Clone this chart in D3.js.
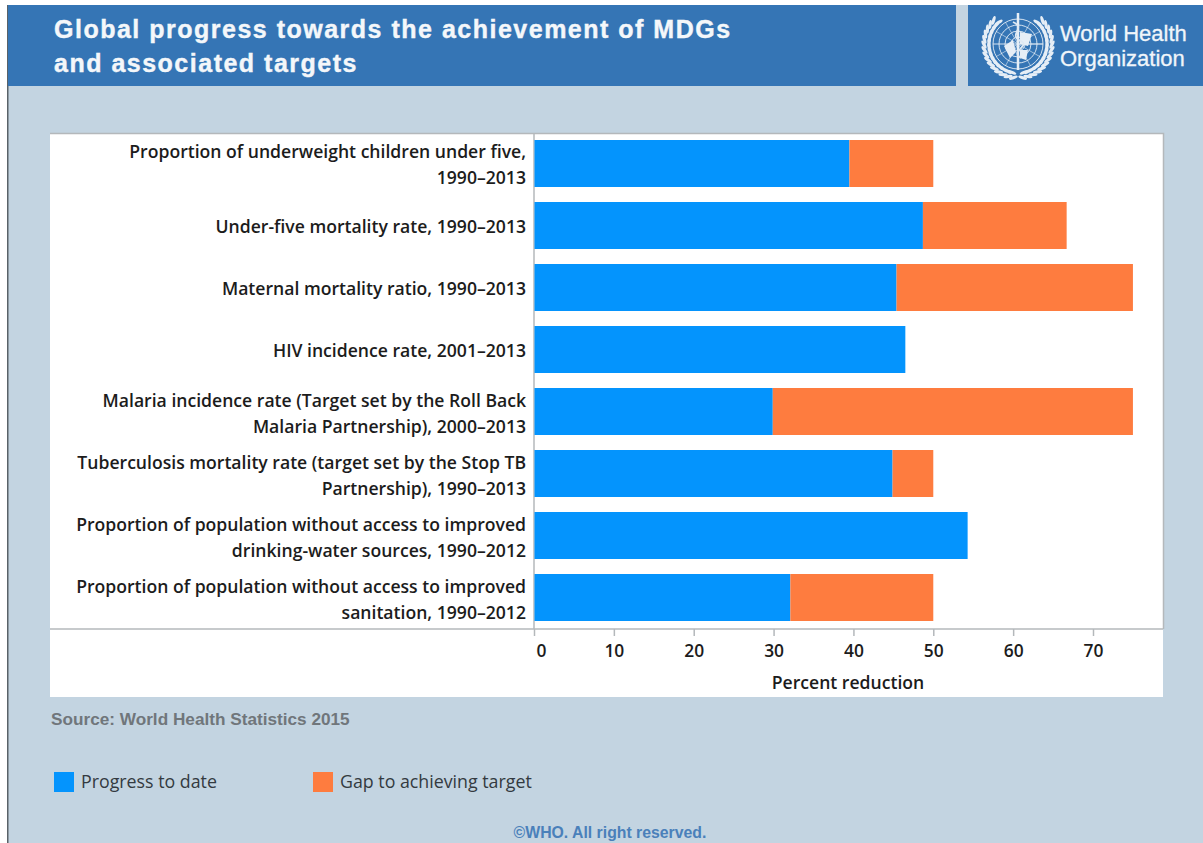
<!DOCTYPE html>
<html>
<head>
  <title>Global progress towards the achievement of MDGs</title>
  <style>
    body { margin: 0; padding: 0; background: #fff; overflow: hidden; }
    svg { display: block; }
    .label { font-family: "Open Sans", sans-serif; font-size: 17.6px; font-weight: 600; fill: #1c1c1c; }
    .tick text { font-family: "Open Sans", sans-serif; font-size: 17.4px; font-weight: 600; fill: #1c1c1c; }
    .head { font-family: "Liberation Sans", Arial, sans-serif; font-weight: bold; font-size: 25px; letter-spacing: 1.5px; fill: #f4f7fa; stroke: #f4f7fa; stroke-width: 0.4px; }
    .org { font-family: "Liberation Sans", Arial, sans-serif; font-size: 22px; fill: #f0f5fa; stroke: #f0f5fa; stroke-width: 0.3px; }
  </style>
</head>
<body>
  <div id="chart"></div>
  <script src="https://d3js.org/d3.v7.min.js"></script>
  <script>
    // values
    const categories = [
      ["Proportion of underweight children under five,", "1990–2013"],
      ["Under-five mortality rate, 1990–2013"],
      ["Maternal mortality ratio, 1990–2013"],
      ["HIV incidence rate, 2001–2013"],
      ["Malaria incidence rate (Target set by the Roll Back", "Malaria Partnership), 2000–2013"],
      ["Tuberculosis mortality rate (target set by the Stop TB", "Partnership), 1990–2013"],
      ["Proportion of population without access to improved", "drinking-water sources, 1990–2012"],
      ["Proportion of population without access to improved", "sanitation, 1990–2012"]
    ];
    const progress = [39.5, 48.7, 45.4, 46.5, 29.9, 44.9, 54.3, 32.1];
    const gap = [10.5, 18, 29.6, 0, 45.1, 5.1, 0, 17.9];
    const tickValues = [0, 10, 20, 30, 40, 50, 60, 70];
    const seriesNames = ["Progress to date", "Gap to achieving target"];
    const seriesColors = ["#0494fd", "#fe7c3f"];

    const width = 1203, height = 843;
    const svg = d3.select("#chart").append("svg").attr("width", width).attr("height", height);

    // page background and header bands
    svg.append("rect").attr("x", 7).attr("width", width - 7).attr("height", height).attr("fill", "#c3d4e1");
    svg.append("rect").attr("x", 7).attr("width", 1.5).attr("height", height).attr("fill", "#5a6268");
    svg.append("rect").attr("y", 0).attr("width", width).attr("height", 5).attr("fill", "#fff");
    svg.append("rect").attr("x", 8).attr("y", 5).attr("width", 948).attr("height", 81).attr("fill", "#3575b5");
    svg.append("rect").attr("x", 968).attr("y", 5).attr("width", 235).attr("height", 81).attr("fill", "#3575b5");
    svg.append("text").attr("class", "head").attr("x", 54).attr("y", 38).text("Global progress towards the achievement of MDGs");
    svg.append("text").attr("class", "head").attr("x", 54).attr("y", 72).text("and associated targets");

    // WHO emblem
    const logo = svg.append("g").attr("transform", "translate(1018,44)")
      .attr("fill", "none").attr("stroke", "#e6eef6");
    [7, 13, 19, 25].forEach(r => logo.append("circle").attr("r", r).attr("stroke-width", 0.9));
    logo.append("line").attr("x1", -25).attr("x2", 25).attr("stroke-width", 0.9);
    logo.append("line").attr("y1", -31).attr("y2", 26).attr("stroke-width", 2.5);
    d3.range(-150, 180, 30).forEach(a => {
      const t = a * Math.PI / 180;
      logo.append("line").attr("x2", 25 * Math.cos(t)).attr("y2", 25 * Math.sin(t)).attr("stroke-width", 0.6);
    });
    d3.range(-48, 80, 9).forEach(a => {
      [1, -1].forEach(side => {
        [29, 34].forEach((r, k) => {
          const t = (a + k * 4) * Math.PI / 180;
          logo.append("ellipse")
            .attr("rx", 1.6).attr("ry", 4.6)
            .attr("fill", "#e6eef6").attr("stroke", "none")
            .attr("transform", `translate(${side * r * Math.cos(t)},${r * Math.sin(t)}) rotate(${side * (a + (k ? 30 : -10))})`);
        });
      });
    });
    logo.append("path").attr("d", "M-14,2 L-5,-4 L-2,8 L-8,14 Z M2,-12 L14,-10 L10,2 L2,0 Z M2,6 L10,6 L8,16 L2,14 Z")
      .attr("fill", "#e6eef6").attr("stroke", "none");
    logo.append("path").attr("d", "M-5,-22 C9,-16 -11,-9 3,-3 C13,2 -9,7 3,14")
      .attr("stroke", "#dfe9f3").attr("stroke-width", 1.8);
    svg.append("text").attr("class", "org").attr("x", 1060).attr("y", 41).text("World Health");
    svg.append("text").attr("class", "org").attr("x", 1060).attr("y", 66).text("Organization");

    // white panel behind the chart
    svg.append("rect").attr("x", 50).attr("y", 133).attr("width", 1113).attr("height", 564).attr("fill", "#fff");

    // scales
    const x = d3.scaleLinear().domain([0, 70]).range([534, 1093]);
    const y = d3.scaleBand().domain(d3.range(categories.length)).range([140, 621]).paddingInner(0.242);

    // panel frame
    const frame = "#b4b8bb";
    svg.append("path").attr("d", "M50,133.5H1163.5V629").attr("fill", "none").attr("stroke", frame).attr("stroke-width", 1.5);
    svg.append("line").attr("x1", 534).attr("x2", 534).attr("y1", 133).attr("y2", 629).attr("stroke", frame).attr("stroke-width", 1.5);

    // stacked bars
    svg.selectAll(".progress").data(progress).enter().append("rect")
      .attr("class", "progress")
      .attr("x", x(0) + 0.5)
      .attr("y", (d, i) => y(i))
      .attr("width", d => x(d) - x(0) - 0.5)
      .attr("height", y.bandwidth())
      .attr("fill", seriesColors[0]);
    svg.selectAll(".gap").data(gap).enter().append("rect")
      .attr("class", "gap")
      .attr("x", (d, i) => x(progress[i]))
      .attr("y", (d, i) => y(i))
      .attr("width", (d, i) => x(progress[i] + d) - x(progress[i]))
      .attr("height", y.bandwidth())
      .attr("fill", seriesColors[1]);

    // category labels, one text per line
    categories.forEach((lines, i) => {
      const mid = y(i) + y.bandwidth() / 2 + 8;
      lines.forEach((line, j) => {
        svg.append("text").attr("class", "label")
          .attr("x", 526)
          .attr("y", mid + (j - (lines.length - 1) / 2) * 26)
          .attr("text-anchor", "end")
          .text(line);
      });
    });

    // x axis
    const xAxis = svg.append("g").attr("transform", "translate(0,629)")
      .call(d3.axisBottom(x).tickValues(tickValues).tickSize(7).tickPadding(9));
    xAxis.select(".domain").remove();
    xAxis.selectAll(".tick line").attr("stroke", frame).attr("stroke-width", 1.5);
    xAxis.selectAll(".tick text").filter(d => d === 0).attr("dx", 7);
    svg.append("line").attr("x1", 50).attr("x2", 1163).attr("y1", 629).attr("y2", 629).attr("stroke", frame).attr("stroke-width", 1.5);
    svg.append("text").attr("class", "label").attr("x", 848).attr("y", 689).attr("text-anchor", "middle").text("Percent reduction");

    // source
    svg.append("text").attr("x", 51).attr("y", 725).attr("fill", "#70767b")
      .style("font", "bold 17.2px 'Liberation Sans', Arial, sans-serif").text("Source: World Health Statistics 2015");

    // legend
    const legendX = d3.scaleOrdinal().domain(seriesNames).range([54, 313]);
    seriesNames.forEach((name, i) => {
      svg.append("rect").attr("x", legendX(name)).attr("y", 772).attr("width", 20).attr("height", 20).attr("fill", seriesColors[i]);
      svg.append("text").attr("x", legendX(name) + 27).attr("y", 788).attr("fill", "#333a40")
        .style("font", "400 17.8px 'Open Sans', sans-serif").text(name);
    });

    svg.append("text").attr("x", 610).attr("y", 837.5).attr("text-anchor", "middle").attr("fill", "#4a80ba")
      .style("font", "bold 15.8px 'Liberation Sans', Arial, sans-serif").text("©WHO. All right reserved.");
  </script>
</body>
</html>
